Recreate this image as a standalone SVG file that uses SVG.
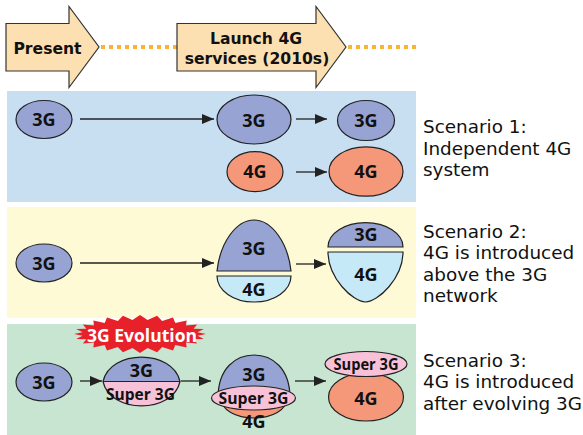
<svg xmlns="http://www.w3.org/2000/svg" width="583" height="435" viewBox="0 0 583 435">
<style>
.bg{stroke:none}
.nd{stroke:#222;stroke-width:1.2}
.b3{fill:#97a3d2}
.o4{fill:#f59879}
.l4{fill:#c6e9f8}
.sp{fill:#f7c2d8}
.lbl{font-family:"Open Sans","Noto Sans","DejaVu Sans",sans-serif;font-weight:bold;font-size:18px;fill:#111;text-anchor:middle}
.top{font-family:"DejaVu Sans","Open Sans",sans-serif;font-weight:bold;font-size:15.6px;fill:#111;text-anchor:middle}
.sup{font-family:"Open Sans","Noto Sans","DejaVu Sans",sans-serif;font-weight:bold;font-size:16px;fill:#111;text-anchor:middle}
.cap{font-family:"DejaVu Sans","Open Sans",sans-serif;font-size:18.4px;fill:#111}
.tl{fill:#fde0b2;stroke:#333;stroke-width:1.2}
.dot{stroke:#f6b633;stroke-width:4;stroke-dasharray:4 4;fill:none}
.ar{stroke:#222;stroke-width:1.3;fill:none;marker-end:url(#ah)}
</style>
<defs>
<marker id="ah" viewBox="0 0 12 10" refX="12" refY="5" markerWidth="12" markerHeight="10" markerUnits="userSpaceOnUse" orient="auto">
<path d="M0,0 L12,5 L0,10 z" fill="#222"/>
</marker>
</defs>
<rect width="583" height="435" fill="#ffffff"/>
<g id="panels">
<rect class="bg" x="7" y="91" width="409" height="111" fill="#c8dff2"/>
<rect class="bg" x="7" y="207" width="409" height="111" fill="#fefad6"/>
<rect class="bg" x="7" y="324" width="409" height="111" fill="#c8e5d2"/>
</g>
<g id="timeline">
<line class="dot" x1="101" y1="47" x2="177" y2="47"/>
<line class="dot" x1="348" y1="47" x2="417" y2="47"/>
</g>
<g id="present">
<polygon class="tl" points="6,23.5 69,23.5 69,6.5 99,47 69,87.5 69,71 6,71"/>
<text class="top" x="47.5" y="54">Present</text>
</g>
<g id="launch">
<polygon class="tl" points="177,23.5 316,23.5 316,6.5 346,47 316,87.5 316,71 177,71"/>
<text class="top" x="256" y="44">Launch 4G</text>
<text class="top" x="257" y="63.5">services (2010s)</text>
</g>
<g id="connectors">
<line class="ar" x1="80" y1="119" x2="214" y2="119"/>
<line class="ar" x1="296" y1="119" x2="327" y2="119"/>
<line class="ar" x1="296" y1="172" x2="327" y2="172"/>
<line class="ar" x1="80" y1="263" x2="214" y2="263"/>
<line class="ar" x1="296" y1="264" x2="326" y2="264"/>
<line class="ar" x1="80" y1="381" x2="102" y2="381"/>
<line class="ar" x1="181" y1="381" x2="211" y2="381"/>
<line class="ar" x1="295" y1="381" x2="326" y2="381"/>
</g>
<g id="s1-3g-a">
<ellipse class="nd b3" cx="44" cy="119.5" rx="28" ry="19"/>
<text class="lbl" x="44" y="126">3G</text>
</g>
<g id="s1-3g-b">
<ellipse class="nd b3" cx="254" cy="119.5" rx="37" ry="24.5"/>
<text class="lbl" x="254" y="127">3G</text>
</g>
<g id="s1-3g-c">
<ellipse class="nd b3" cx="366" cy="120.5" rx="28.5" ry="20"/>
<text class="lbl" x="366" y="127">3G</text>
</g>
<g id="s1-4g-a">
<ellipse class="nd o4" cx="255" cy="171.7" rx="28" ry="20"/>
<text class="lbl" x="255" y="178.3">4G</text>
</g>
<g id="s1-4g-b">
<ellipse class="nd o4" cx="366" cy="171.5" rx="37" ry="24.7"/>
<text class="lbl" x="366" y="178">4G</text>
</g>
<g id="s2-3g-a">
<ellipse class="nd b3" cx="44" cy="263" rx="28" ry="19"/>
<text class="lbl" x="44" y="269.5">3G</text>
</g>
<g id="s2-mid">
<path class="nd b3" d="M217,271 C220,243 236,220 254,220 C272,220 288,243 291,271 Z"/>
<path class="nd l4" d="M217,276 L291,276 A37,26 0 0 1 217,276 Z"/>
<text class="lbl" x="254" y="255">3G</text>
<text class="lbl" x="254" y="296">4G</text>
</g>
<g id="s2-right">
<path class="nd b3" d="M328,247 A37.5,24.3 0 0 1 403,247 Z"/>
<path class="nd l4" d="M328,252 L403,252 C403,278 378,302 365.5,302 C353,302 328,278 328,252 Z"/>
<text class="lbl" x="366" y="241">3G</text>
<text class="lbl" x="366" y="281">4G</text>
</g>
<g id="evolution">
<polygon fill="#e8202a" points="206,334 197.5,335.83 203.75,338.92 193.59,339.36 197.16,343.5 186.02,342.52 186.67,347.43 175.31,345.11 173,350.45 162.2,346.93 157.08,352.35 147.57,347.88 140,353 132.43,347.88 122.92,352.35 117.8,346.93 107,350.45 104.69,345.11 93.33,347.43 93.98,342.52 82.84,343.5 86.41,339.36 76.25,338.92 82.5,335.83 74,334 82.5,332.17 76.25,329.08 86.41,328.64 82.84,324.5 93.98,325.48 93.33,320.57 104.69,322.89 107,317.55 117.8,321.07 122.92,315.65 132.43,320.12 140,315 147.57,320.12 157.08,315.65 162.2,321.07 173,317.55 175.31,322.89 186.67,320.57 186.02,325.48 197.16,324.5 193.59,328.64 203.75,329.08 197.5,332.17"/>
<text class="lbl" x="142" y="341.5" style="fill:#ffffff;font-size:17.5px">3G Evolution</text>
</g>
<g id="s3-3g">
<ellipse class="nd b3" cx="44" cy="382" rx="28" ry="19"/>
<text class="lbl" x="44" y="388.5">3G</text>
</g>
<g id="s3-lens">
<path class="b3" d="M103,381.5 C110,349 173,349 180,381.5 Z"/>
<path class="sp" d="M103,381.5 L180,381.5 C173,414 110,414 103,381.5 Z"/>
<path class="nd" fill="none" d="M103,381.5 C110,349 173,349 180,381.5 C173,414 110,414 103,381.5 Z M103,381.5 L180,381.5"/>
<text class="lbl" x="141.5" y="377">3G</text>
<text class="sup" x="140.5" y="400" textLength="69" lengthAdjust="spacingAndGlyphs">Super 3G</text>
</g>
<g id="s3-mix">
<path class="nd b3" d="M218,398 C218,368 236,355 254,355 C272,355 290,368 290,398 Z"/>
<path class="nd o4" d="M221,398 L287,398 C287,410 272,418 254,418 C236,418 221,410 221,398 Z"/>
<ellipse class="nd sp" cx="253.5" cy="398" rx="42" ry="12"/>
<text class="lbl" x="254" y="380.5">3G</text>
<text class="sup" x="253.5" y="403.5" textLength="70" lengthAdjust="spacingAndGlyphs">Super 3G</text>
<text class="lbl" x="254" y="427.5">4G</text>
</g>
<g id="s3-final">
<ellipse class="nd o4" cx="366" cy="397" rx="37.5" ry="24"/>
<ellipse class="nd sp" cx="366" cy="364" rx="41" ry="12.5"/>
<text class="sup" x="366" y="370" textLength="65" lengthAdjust="spacingAndGlyphs">Super 3G</text>
<text class="lbl" x="366" y="405">4G</text>
</g>
<g id="captions">
<text class="cap" x="423" y="133">Scenario 1:</text>
<text class="cap" x="423" y="154.5">Independent 4G</text>
<text class="cap" x="423" y="176">system</text>
<text class="cap" x="423" y="237.5">Scenario 2:</text>
<text class="cap" x="423" y="259">4G is introduced</text>
<text class="cap" x="423" y="280.5">above the 3G</text>
<text class="cap" x="423" y="302">network</text>
<text class="cap" x="423" y="366.5">Scenario 3:</text>
<text class="cap" x="423" y="388">4G is introduced</text>
<text class="cap" x="423" y="409.5">after evolving 3G</text>
</g>
</svg>
